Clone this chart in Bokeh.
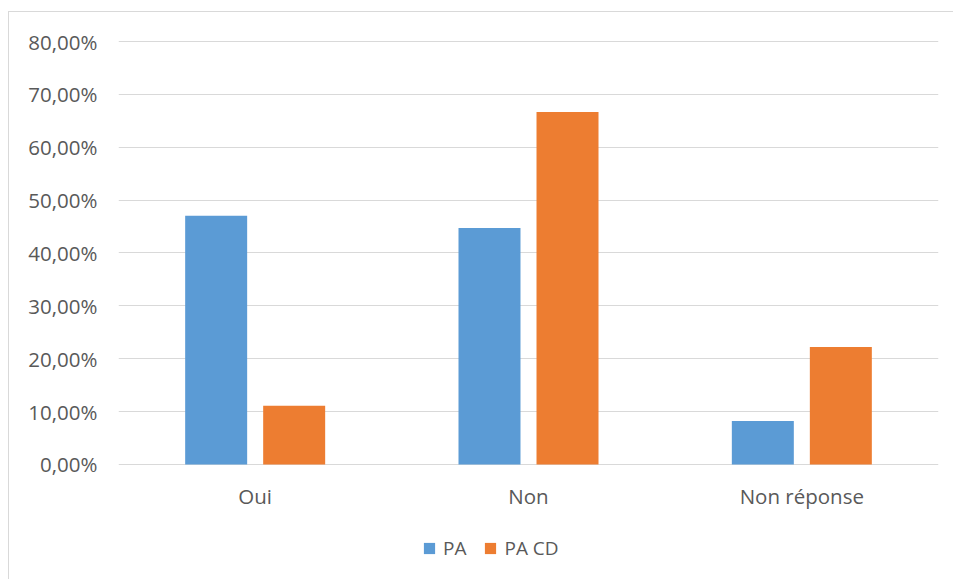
from bokeh.plotting import figure
from bokeh.models import (ColumnDataSource, FactorRange, Range1d, FixedTicker,
                          CustomJSTickFormatter, Legend, LegendItem)
from bokeh.transform import dodge
from bokeh.embed import file_html
from bokeh.resources import INLINE

categories = ["Oui", "Non", "Non réponse"]
series_names = ["PA", "PA CD"]
pa_values = [47.06, 44.71, 8.24]
pa_cd_values = [11.11, 66.67, 22.22]
y_ticks = [0, 10, 20, 30, 40, 50, 60, 70, 80]

colors = ["#5B9BD5", "#ED7D31"]
text_color = "#595959"
grid_color = "#D9D9D9"
font = "Open Sans"

source = ColumnDataSource(dict(cat=categories, pa=pa_values, pacd=pa_cd_values))

# frame spans from just above the 80% line down to the bottom of the canvas;
# the x axis is pinned at y=0 so the legend can sit inside the frame below it
p = figure(width=945, height=568, output_backend="svg", toolbar_location=None,
           x_range=FactorRange(factors=categories), y_range=Range1d(-21.94, 80.19),
           min_border_left=109, min_border_right=16, min_border_top=28,
           min_border_bottom=0)
p.styles = {"margin-left": "8px", "margin-top": "11px",
            "border-left": "1px solid #D9D9D9", "border-top": "1px solid #D9D9D9"}
p.outline_line_color = None
p.background_fill_color = "white"
p.border_fill_color = "white"

r1 = p.vbar(x=dodge("cat", -0.1427, range=p.x_range), top="pa", width=0.2268,
            source=source, fill_color=colors[0], line_color=None)
r2 = p.vbar(x=dodge("cat", 0.1427, range=p.x_range), top="pacd", width=0.2268,
            source=source, fill_color=colors[1], line_color=None)

p.xgrid.grid_line_color = None
p.ygrid.grid_line_color = grid_color
p.ygrid.grid_line_width = 1
p.yaxis.ticker = FixedTicker(ticks=y_ticks)
p.yaxis.formatter = CustomJSTickFormatter(
    code="return tick.toFixed(2).replace('.', ',') + '%';")
p.xaxis.fixed_location = 0

for ax in (p.xaxis, p.yaxis):
    ax.axis_line_color = None
    ax.major_tick_line_color = None
    ax.minor_tick_line_color = None
    ax.major_tick_out = 0
    ax.major_tick_in = 0
    ax.minor_tick_out = 0
    ax.major_label_text_font = font
    ax.major_label_text_font_size = "20.5px"
    ax.major_label_text_color = text_color
p.yaxis.major_label_standoff = 21
p.xaxis.major_label_standoff = 18

legend = Legend(items=[LegendItem(label=series_names[0], renderers=[r1]),
                       LegendItem(label=series_names[1], renderers=[r2])],
                orientation="horizontal", location=(304, 19),
                glyph_width=14, glyph_height=14, label_standoff=7, spacing=17,
                padding=0, margin=0, border_line_color=None,
                background_fill_alpha=0,
                label_text_font=font, label_text_font_size="19px",
                label_text_color=text_color)
p.add_layout(legend, "center")

open("out.html", "w").write(file_html(p, INLINE))
